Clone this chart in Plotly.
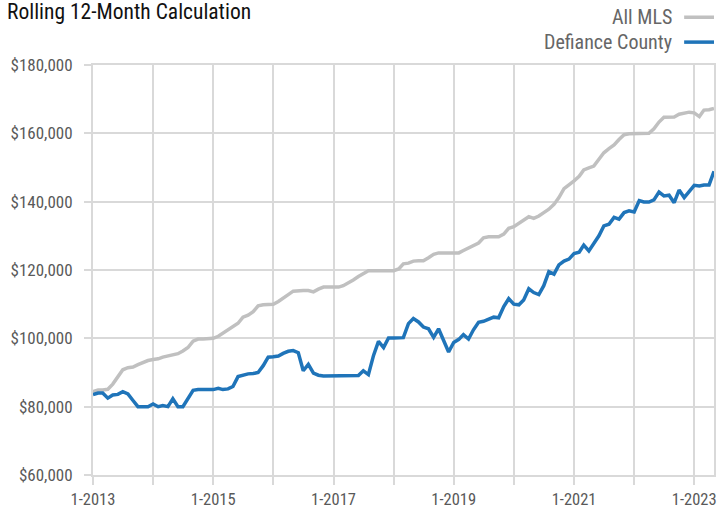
import plotly.graph_objects as go
import pandas as pd

dates = pd.date_range("2013-01-01", "2023-05-01", freq="MS")

all_mls = [
    84.4, 84.9, 84.9, 85.1, 86.6, 88.6, 90.8, 91.4, 91.6, 92.3, 92.9, 93.5,
    93.8, 94.0, 94.5, 94.8, 95.0, 95.5, 96.3, 97.3, 99.2, 99.8, 99.8, 99.8,
    100.0, 100.6, 101.5, 102.3, 103.4, 104.4, 106.2, 106.8, 107.8, 109.5, 109.8, 109.8,
    110.0, 110.8, 111.9, 112.8, 113.8, 114.0, 114.0, 114.0, 113.6, 114.4, 115.0, 115.0,
    115.0, 115.0, 115.4, 116.2, 117.1, 118.1, 119.0, 119.8, 119.8, 119.8, 119.8, 119.8,
    119.8, 120.3, 121.8, 122.0, 122.6, 122.7, 122.7, 123.6, 124.6, 125.0, 125.0, 125.0,
    125.0, 125.0, 125.7, 126.5, 127.3, 127.9, 129.4, 129.7, 129.7, 129.7, 130.5, 132.2,
    132.7, 133.7, 134.7, 135.6, 135.1, 135.8, 136.8, 137.8, 139.2, 141.2, 143.8, 144.8,
    146.1, 147.4, 149.3, 149.9, 150.4, 152.4, 154.3, 155.5, 156.6, 158.2, 159.6, 159.9,
    159.9, 159.9, 159.9, 160.0, 161.3, 163.3, 164.7, 164.8, 164.8, 165.6, 165.9, 166.2,
    166.0, 164.9, 166.8, 166.9, 167.3,
]

defiance = [
    83.5, 84.0, 84.0, 82.5, 83.4, 83.6, 84.4, 83.7, 81.8, 80.0, 80.0, 80.0,
    80.8, 80.0, 80.3, 80.0, 82.3, 80.0, 80.0, 82.5, 84.8, 85.0, 85.0, 85.0,
    85.0, 85.4, 85.0, 85.2, 85.9, 88.8, 89.3, 89.6, 89.7, 90.0, 92.0, 94.5,
    94.6, 94.8, 95.6, 96.2, 96.4, 95.8, 90.5, 92.4, 89.8, 89.2, 89.0, 89.0,
    89.0, 89.0, 89.0, 89.0, 89.1, 89.1, 90.5, 89.4, 95.0, 99.1, 97.3, 100.1,
    100.1, 100.1, 100.2, 104.3, 105.8, 104.8, 103.3, 102.8, 100.3, 102.8, 99.3, 96.0,
    98.8, 99.7, 101.1, 99.8, 102.5, 104.7, 105.0, 105.6, 106.2, 106.0, 109.3, 111.6,
    110.0, 109.8, 111.2, 114.5, 113.4, 112.8, 115.4, 119.5, 118.8, 121.5, 122.6, 123.2,
    124.8, 125.2, 127.3, 125.6, 127.6, 130.0, 132.9, 133.4, 135.4, 134.9, 136.8, 137.3,
    137.0, 140.3, 139.9, 139.9, 140.5, 142.8, 141.7, 141.9, 139.7, 143.4, 141.2, 142.8,
    144.8, 144.6, 144.9, 144.9, 148.9,
]

series_names = ["All MLS", "Defiance County"]
series_colors = ["#c0c0c0", "#1f74b9"]

year_ticks = pd.date_range("2013-01-01", "2023-01-01", freq="YS")
year_labels = [f"1-{d.year}" if (d.year - 2013) % 2 == 0 else "" for d in year_ticks]

y_ticks = [60000, 80000, 100000, 120000, 140000, 160000, 180000]
y_labels = [f"${v:,}" for v in y_ticks]

FONT = "Liberation Sans Narrow, Arial Narrow, Roboto Condensed, DejaVu Sans Condensed, sans-serif"

fig = go.Figure()
for name, vals, col in zip(series_names, [all_mls, defiance], series_colors):
    fig.add_trace(go.Scatter(
        x=dates, y=[v * 1000 for v in vals], mode="lines", name=name,
        line=dict(color=col, width=3.5), showlegend=False,
    ))

GRID = "#d9d9d9"
fig.update_layout(
    width=720, height=512,
    margin=dict(l=93, r=3, t=65, b=35),
    paper_bgcolor="white", plot_bgcolor="white",
    font=dict(family=FONT, size=16.5, color="#595959"),
    title=dict(text="Rolling 12-Month Calculation", x=7 / 720, xanchor="left",
               xref="container", y=1 - 11.5 / 512, yanchor="middle",
               font=dict(family=FONT, size=21.5, color="#111111")),
    xaxis=dict(
        range=[dates[0], dates[-1]], tickvals=year_ticks, ticktext=year_labels,
        showgrid=True, gridcolor=GRID, gridwidth=2,
        ticks="outside", ticklen=8, tickwidth=2, tickcolor=GRID,
        showline=True, linecolor=GRID, linewidth=2, mirror=True,
        zeroline=False, tickfont=dict(size=16.5, color="#595959"),
    ),
    yaxis=dict(
        range=[60000, 180000], tickvals=y_ticks, ticktext=y_labels,
        showgrid=True, gridcolor=GRID, gridwidth=2,
        ticks="outside", ticklen=7, tickwidth=2, tickcolor=GRID,
        showline=True, linecolor=GRID, linewidth=2, mirror=True,
        zeroline=False, ticklabelstandoff=8, tickfont=dict(size=17, color="#595959"),
    ),
)

# custom legend (text left of the line sample)
plot_w, plot_h = 624, 412
for i, (name, col) in enumerate(zip(series_names, series_colors)):
    ypix = 17 + 25 * i
    ypaper = (477 - ypix) / plot_h
    fig.add_annotation(text=name, xref="paper", yref="paper",
                       x=(677 - 93) / plot_w, y=ypaper, xanchor="right", yanchor="middle",
                       showarrow=False, font=dict(family=FONT, size=20, color="#666666"))
    fig.add_shape(type="line", xref="paper", yref="paper",
                  x0=(687 - 93) / plot_w, x1=(717 - 93) / plot_w, y0=ypaper, y1=ypaper,
                  line=dict(color=col, width=3.5))

fig.write_html("out.html", config={"displayModeBar": False},
               post_script="document.body.style.margin='0';document.body.style.padding='0';")
